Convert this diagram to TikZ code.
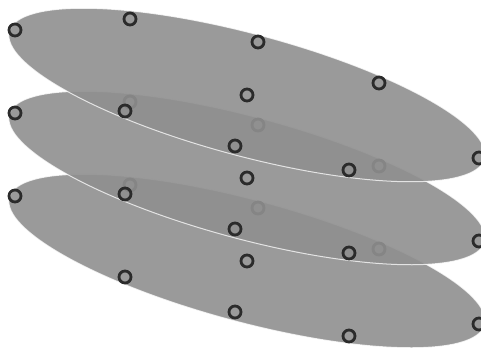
\documentclass[tikz,border=0pt]{standalone}
\usepackage{tikz}

\begin{document}
\begin{tikzpicture}[x=1pt, y=-1pt,
  plane/.style={fill=black!44, fill opacity=0.9, draw=white, draw opacity=0.75, line width=1pt},
  vertex/.style={circle, draw=black!83, line width=2.8pt, minimum size=12pt, inner sep=0pt}]
  \useasboundingbox (0,0) rectangle (481,353);

  % three stacked planes, lowest first
  \foreach \l/\dy in {c/166, b/83, a/0} {
    % plane
    \draw[plane, rotate around={-15:(247,95+\dy)}] (247,95+\dy) ellipse [x radius=246, y radius=61];
    % vertices of this plane
    \foreach \n/\x/\y in {1/15/30, 2/130/19, 3/258/42, 4/379/83, 5/479/158, 6/349/170, 7/235/146, 8/125/111, 9/247/95} {
      \node[vertex] (\l\n) at (\x,\y+\dy) {};
    }
  }
\end{tikzpicture}
\end{document}
